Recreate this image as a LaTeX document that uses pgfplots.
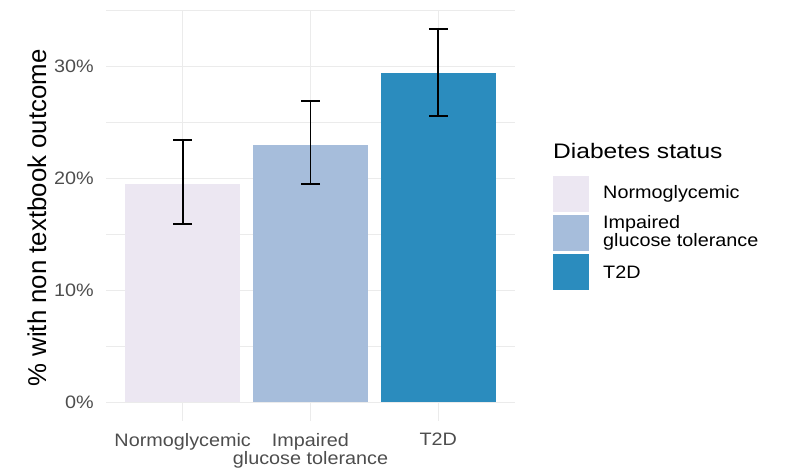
\documentclass[border=0pt]{standalone}
\usepackage{fontspec}
\setmainfont{Liberation Sans}[FakeStretch=1.1]
\newfontfamily\titlefont{Liberation Sans}
\newfontfamily\legtitlefont{Liberation Sans}[FakeStretch=1.17]
\usepackage{pgfplots}
\pgfplotsset{compat=1.18}
\definecolor{cA}{HTML}{ECE7F2}
\definecolor{cB}{HTML}{A6BDDB}
\definecolor{cC}{HTML}{2B8CBE}
\definecolor{gridgray}{HTML}{EBEBEB}
\definecolor{tickgray}{HTML}{4D4D4D}
\begin{document}
\begin{tikzpicture}
\useasboundingbox (0,0) rectangle (787bp,472bp);
\begin{axis}[
  at={(106bp,51bp)}, anchor=south west,
  scale only axis, width=409bp, height=411bp,
  xmin=0.4, xmax=3.6, ymin=-1.67, ymax=35.07,
  axis line style={draw=none},
  tick style={draw=none},
  xtick={1,2,3},
  xticklabels={Normoglycemic,{Impaired\\glucose tolerance},T2D},
  ytick={0,10,20,30},
  yticklabels={0\%,10\%,20\%,30\%},
  minor ytick={5,15,25,35},
  major tick length=0pt, minor tick length=0pt,
  xmajorgrids, ymajorgrids, yminorgrids,
  major grid style={color=gridgray, line width=1.2bp},
  minor grid style={color=gridgray, line width=0.7bp},
  xticklabel style={align=center, font=\fontsize{18bp}{18.5bp}\selectfont, text=tickgray, inner sep=0pt, anchor=north, yshift=-12bp},
  yticklabel style={font=\fontsize{18bp}{18.5bp}\selectfont, text=tickgray, inner sep=0pt, anchor=east, xshift=-12bp},
  clip=false,
]
\addplot[ybar, bar width=0.9, bar shift=0pt, fill=cA, draw=none,
  error bars/.cd, y dir=both, y explicit,
  error bar style={line width=1.8bp, black},
  error mark options={rotate=90, mark size=9.5bp, line width=1.8bp, black}]
  coordinates {(1,19.5) += (0,3.96) -= (0,3.56)};
\addplot[ybar, bar width=0.9, bar shift=0pt, fill=cB, draw=none,
  error bars/.cd, y dir=both, y explicit,
  error bar style={line width=1.8bp, black},
  error mark options={rotate=90, mark size=9.5bp, line width=1.8bp, black}]
  coordinates {(2,23.0) += (0,3.95) -= (0,3.5)};
\addplot[ybar, bar width=0.9, bar shift=0pt, fill=cC, draw=none,
  error bars/.cd, y dir=both, y explicit,
  error bar style={line width=1.8bp, black},
  error mark options={rotate=90, mark size=9.5bp, line width=1.8bp, black}]
  coordinates {(3,29.45) += (0,3.95) -= (0,3.85)};
\end{axis}
% y axis title
\node[rotate=90, font=\titlefont\fontsize{25.8bp}{26bp}\selectfont, inner sep=0pt] at (37bp,254bp) {\% with non textbook outcome};
% legend
\node[anchor=base west, inner sep=0pt, font=\legtitlefont\fontsize{21bp}{22bp}\selectfont] at (553bp,313bp) {Diabetes status};
\fill[cA] (553bp,260bp) rectangle (589bp,296bp);
\fill[cB] (553bp,221bp) rectangle (589bp,257bp);
\fill[cC] (553bp,182bp) rectangle (589bp,218bp);
\node[anchor=west, inner sep=0pt, align=left, font=\fontsize{18bp}{18.5bp}\selectfont] at (603bp,278bp) {Normoglycemic};
\node[anchor=west, inner sep=0pt, align=left, font=\fontsize{18bp}{18.5bp}\selectfont] at (603bp,239bp) {Impaired\\glucose tolerance};
\node[anchor=west, inner sep=0pt, align=left, font=\fontsize{18bp}{18.5bp}\selectfont] at (603bp,200bp) {T2D};
\end{tikzpicture}
\end{document}
